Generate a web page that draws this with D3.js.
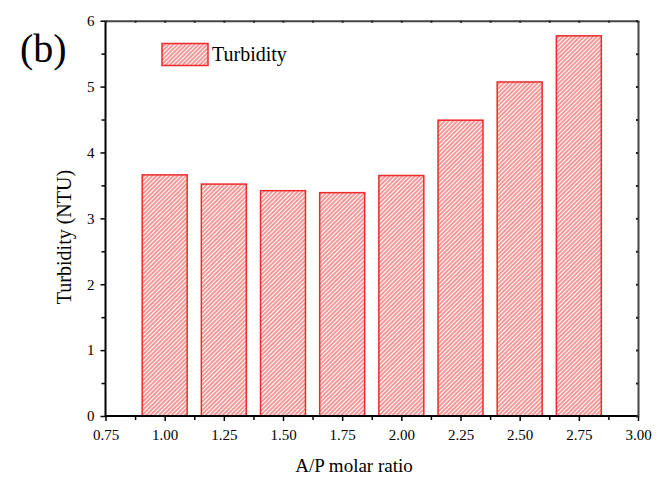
<!DOCTYPE html>
<html>
<head>
<meta charset="utf-8">
<script src="https://cdn.jsdelivr.net/npm/d3@7"></script>
<style>
  body { margin: 0; background: #fff; }
  svg { font-family: "Liberation Serif", "Times New Roman", serif; }
</style>
</head>
<body>
<div id="chart"></div>
<script>
// A/P molar ratio vs turbidity
var ratios = [1.00, 1.25, 1.50, 1.75, 2.00, 2.25, 2.50, 2.75];
var turbidity = [3.66, 3.52, 3.42, 3.39, 3.65, 4.49, 5.07, 5.77];
var xTicks = [0.75, 1.00, 1.25, 1.50, 1.75, 2.00, 2.25, 2.50, 2.75, 3.00];
var yTicks = [0, 1, 2, 3, 4, 5, 6];
var barWidth = 0.19;

var W = 667, H = 478;
var pLeft = 105.5, pRight = 638, pTop = 20.7, pBottom = 416;

var svg = d3.select("#chart").append("svg")
    .attr("width", W)
    .attr("height", H);

// red diagonal hatch
var pat = svg.append("defs").append("pattern")
    .attr("id", "hatch")
    .attr("patternUnits", "userSpaceOnUse")
    .attr("width", 3)
    .attr("height", 10)
    .attr("patternTransform", "rotate(45)");
pat.append("rect")
    .attr("width", 3).attr("height", 10)
    .style("fill", "#fff");
pat.append("line")
    .attr("x1", 1).attr("y1", 0).attr("x2", 1).attr("y2", 10)
    .style("stroke", "#f23030")
    .style("stroke-width", 1);

var x = d3.scaleLinear().domain([0.75, 3.0]).range([pLeft, pRight]);
var y = d3.scaleLinear().domain([0, 6]).range([pBottom, pTop]);

// bars
svg.append("g")
  .selectAll("rect")
  .data(ratios)
  .enter()
  .append("rect")
    .attr("x", function(d) { return x(d - barWidth / 2); })
    .attr("width", function(d) { return x(d + barWidth / 2) - x(d - barWidth / 2); })
    .attr("y", function(d, i) { return y(turbidity[i]); })
    .attr("height", function(d, i) { return y(0) - y(turbidity[i]); })
    .attr("fill", "url(#hatch)")
    .attr("stroke", "#ee2a2a")
    .attr("stroke-width", 1.5);

// minor tick values
var xMinor = d3.range(0.875, 3.0, 0.25);
var yMinor = d3.range(0.5, 6, 1);

// bottom axis
var gx = svg.append("g")
    .attr("transform", "translate(0," + pBottom + ")")
    .call(d3.axisBottom(x).tickValues(xTicks).tickSize(5).tickPadding(8)
        .tickFormat(d3.format(".2f")));
svg.append("g")
    .attr("transform", "translate(0," + pBottom + ")")
    .call(d3.axisBottom(x).tickValues(xMinor).tickSize(4).tickFormat(""))
    .select(".domain").remove();

// left axis
var gy = svg.append("g")
    .attr("transform", "translate(" + pLeft + ",0)")
    .call(d3.axisLeft(y).tickValues(yTicks).tickSize(5).tickPadding(6)
        .tickFormat(d3.format("d")));
svg.append("g")
    .attr("transform", "translate(" + pLeft + ",0)")
    .call(d3.axisLeft(y).tickValues(yMinor).tickSize(4).tickFormat(""))
    .select(".domain").remove();

// top and right frame with small ticks
var gt = svg.append("g")
    .attr("transform", "translate(0," + pTop + ")")
    .call(d3.axisTop(x).tickValues(xTicks.concat(xMinor)).tickSize(-2).tickSizeOuter(0).tickFormat(""));
var gr = svg.append("g")
    .attr("transform", "translate(" + pRight + ",0)")
    .call(d3.axisRight(y).tickValues(yTicks.concat(yMinor)).tickSize(-2).tickSizeOuter(0).tickFormat(""));

svg.selectAll(".tick line").attr("stroke", "#000").attr("stroke-width", 1.5);
[gx, gy].forEach(function(g) {
    g.selectAll("text").attr("fill", "#000").style("font-size", "15px")
        .style("font-family", "Liberation Serif, serif");
    g.select(".domain").attr("stroke", "#000").attr("stroke-width", 2);
});
[gt, gr].forEach(function(g) {
    g.selectAll("line").attr("stroke", "#222").attr("stroke-width", 2);
    g.select(".domain").attr("stroke", "#444").attr("stroke-width", 2);
});
gx.select(".domain").attr("d", "M" + pLeft + ",0H" + pRight);
gy.select(".domain").attr("d", "M0," + pBottom + "V" + pTop);

// axis titles
svg.append("text")
    .attr("x", 354)
    .attr("y", 472)
    .attr("text-anchor", "middle")
    .style("font-size", "19px")
    .text("A/P molar ratio");

svg.append("text")
    .attr("transform", "translate(71,237) rotate(-90)")
    .attr("text-anchor", "middle")
    .style("font-size", "20px")
    .text("Turbidity (NTU)");

// panel label
svg.append("text")
    .attr("x", 20)
    .attr("y", 62)
    .style("font-size", "40px")
    .text("(b)");

// legend
svg.append("rect")
    .attr("x", 162)
    .attr("y", 43.5)
    .attr("width", 46)
    .attr("height", 22)
    .attr("fill", "url(#hatch)")
    .attr("stroke", "#ee2a2a")
    .attr("stroke-width", 1.5);
svg.append("text")
    .attr("x", 212)
    .attr("y", 61)
    .style("font-size", "20px")
    .text("Turbidity");
</script>
</body>
</html>
